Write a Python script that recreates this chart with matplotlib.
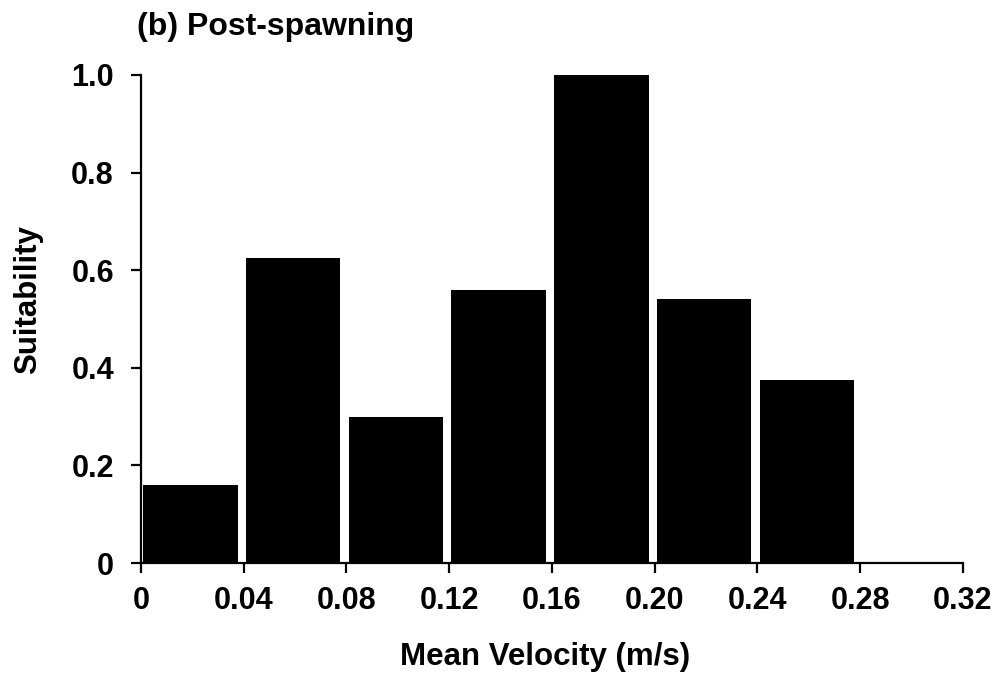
import matplotlib.pyplot as plt

# suitability per velocity class (class width 0.04 m/s)
classes_left = [0.00, 0.04, 0.08, 0.12, 0.16, 0.20, 0.24]
suitability = [0.16, 0.625, 0.30, 0.56, 1.00, 0.54, 0.375]

x_ticks = [0, 0.04, 0.08, 0.12, 0.16, 0.20, 0.24, 0.28, 0.32]
x_labels = ['0', '0.04', '0.08', '0.12', '0.16', '0.20', '0.24', '0.28', '0.32']
y_ticks = [0, 0.2, 0.4, 0.6, 0.8, 1.0]
y_labels = ['0', '0.2', '0.4', '0.6', '0.8', '1.0']

plt.rcParams['font.family'] = ['Liberation Sans', 'DejaVu Sans']
plt.rcParams['font.weight'] = 'bold'

fig = plt.figure(figsize=(10.05, 6.73), dpi=100)
ax = fig.add_axes([0.1403, 0.1634, 0.8179, 0.7252])

ax.bar([x + 0.0008 for x in classes_left], suitability, width=0.0368,
       align='edge', color='black', edgecolor='none')

ax.set_xlim(0, 0.32)
ax.set_ylim(0, 1.0)
ax.set_xticks(x_ticks)
ax.set_xticklabels(x_labels)
ax.set_yticks(y_ticks)
ax.set_yticklabels(y_labels)

for side in ['top', 'right']:
    ax.spines[side].set_visible(False)
for side in ['left', 'bottom']:
    ax.spines[side].set_linewidth(1.6)

ax.tick_params(axis='both', direction='out', length=7.5, width=1.6,
               labelsize=22)
ax.tick_params(axis='x', pad=9)
ax.tick_params(axis='y', pad=12)
for lbl in ax.get_xticklabels() + ax.get_yticklabels():
    lbl.set_fontweight('bold')

fig.text(0.542, 1 - 657 / 673, 'Mean Velocity (m/s)', fontsize=22.5,
         fontweight='bold', ha='center', va='center')
fig.text(28 / 1005, 1 - 300 / 673, 'Suitability', fontsize=22.5,
         fontweight='bold', ha='center', va='center', rotation=90)
fig.text(0.136, 1 - 27 / 673, '(b) Post-spawning', fontsize=23,
         fontweight='bold', ha='left', va='center')

fig.savefig('out.png', dpi=100)
